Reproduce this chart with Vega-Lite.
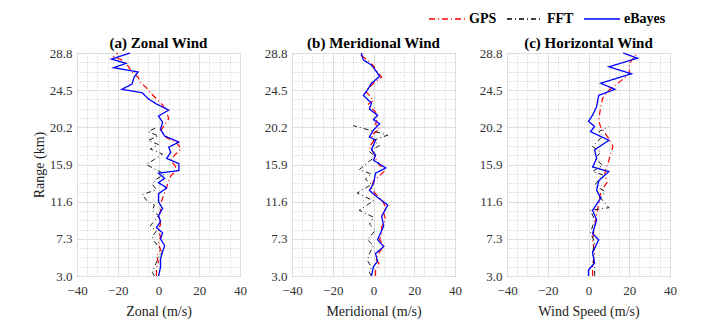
{
  "$schema": "https://vega.github.io/schema/vega-lite/v6.json",
  "padding": {"left": 31, "top": 0, "right": 5, "bottom": 5},
  "background": "white",
  "config": {
    "view": {"stroke": "#707070", "strokeWidth": 1},
    "font": "Liberation Serif",
    "title": {"font": "Liberation Serif", "fontSize": 15, "fontWeight": "bold", "offset": -4, "color": "#000"},
    "axis": {"labelFont": "Liberation Serif", "titleFont": "Liberation Serif", "labelFontSize": 13, "titleFontSize": 14, "titleFontWeight": "normal", "labelColor": "#333", "titleColor": "#222", "labelFlush": false, "ticks": false, "domain": false},
    "legend": {"orient": "none", "legendX": 351, "legendY": -53, "direction": "horizontal", "symbolType": "stroke", "symbolSize": 1300, "symbolStrokeWidth": 1.3, "labelFont": "Liberation Serif", "labelFontSize": 14, "labelFontWeight": "bold", "labelColor": "#000", "columnPadding": 7, "labelOffset": 3}
  },
  "data": {"values": [
    {"p":"a","m":"eBayes","h":28.8,"v":-14},{"p":"a","m":"eBayes","h":28.1,"v":-23},{"p":"a","m":"eBayes","h":27.6,"v":-16},{"p":"a","m":"eBayes","h":27.1,"v":-22},{"p":"a","m":"eBayes","h":26.6,"v":-10},{"p":"a","m":"eBayes","h":26.0,"v":-12},{"p":"a","m":"eBayes","h":25.2,"v":-13},{"p":"a","m":"eBayes","h":24.6,"v":-18},{"p":"a","m":"eBayes","h":24.2,"v":-8},{"p":"a","m":"eBayes","h":23.5,"v":-5},{"p":"a","m":"eBayes","h":22.9,"v":-1},{"p":"a","m":"eBayes","h":22.2,"v":5},{"p":"a","m":"eBayes","h":21.5,"v":0},{"p":"a","m":"eBayes","h":20.8,"v":2},{"p":"a","m":"eBayes","h":20.0,"v":1},{"p":"a","m":"eBayes","h":19.2,"v":3},{"p":"a","m":"eBayes","h":18.5,"v":10},{"p":"a","m":"eBayes","h":17.9,"v":5},{"p":"a","m":"eBayes","h":17.3,"v":6},{"p":"a","m":"eBayes","h":16.6,"v":4},{"p":"a","m":"eBayes","h":16.0,"v":10},{"p":"a","m":"eBayes","h":15.2,"v":10},{"p":"a","m":"eBayes","h":14.9,"v":0},{"p":"a","m":"eBayes","h":14.3,"v":3},{"p":"a","m":"eBayes","h":13.8,"v":0},{"p":"a","m":"eBayes","h":13.2,"v":4},{"p":"a","m":"eBayes","h":12.5,"v":0},{"p":"a","m":"eBayes","h":11.6,"v":0},{"p":"a","m":"eBayes","h":10.8,"v":2},{"p":"a","m":"eBayes","h":10.0,"v":0},{"p":"a","m":"eBayes","h":9.3,"v":1},{"p":"a","m":"eBayes","h":8.6,"v":-1},{"p":"a","m":"eBayes","h":8.0,"v":2},{"p":"a","m":"eBayes","h":7.3,"v":1},{"p":"a","m":"eBayes","h":6.5,"v":3},{"p":"a","m":"eBayes","h":5.8,"v":2},{"p":"a","m":"eBayes","h":5.0,"v":1},{"p":"a","m":"eBayes","h":4.0,"v":1},{"p":"a","m":"eBayes","h":3.0,"v":0},
    {"p":"a","m":"GPS","h":28.8,"v":-20},{"p":"a","m":"GPS","h":28.4,"v":-22},{"p":"a","m":"GPS","h":27.9,"v":-17},{"p":"a","m":"GPS","h":27.3,"v":-15},{"p":"a","m":"GPS","h":26.6,"v":-13},{"p":"a","m":"GPS","h":26.0,"v":-10},{"p":"a","m":"GPS","h":25.4,"v":-9},{"p":"a","m":"GPS","h":24.8,"v":-6},{"p":"a","m":"GPS","h":24.2,"v":-4},{"p":"a","m":"GPS","h":23.5,"v":-1},{"p":"a","m":"GPS","h":22.8,"v":2},{"p":"a","m":"GPS","h":22.0,"v":4},{"p":"a","m":"GPS","h":21.2,"v":5},{"p":"a","m":"GPS","h":20.5,"v":3},{"p":"a","m":"GPS","h":19.8,"v":1},{"p":"a","m":"GPS","h":19.0,"v":4},{"p":"a","m":"GPS","h":18.4,"v":9},{"p":"a","m":"GPS","h":17.7,"v":11},{"p":"a","m":"GPS","h":17.0,"v":8},{"p":"a","m":"GPS","h":16.4,"v":6},{"p":"a","m":"GPS","h":15.8,"v":8},{"p":"a","m":"GPS","h":15.2,"v":9},{"p":"a","m":"GPS","h":14.6,"v":6},{"p":"a","m":"GPS","h":14.0,"v":5},{"p":"a","m":"GPS","h":13.3,"v":4},{"p":"a","m":"GPS","h":12.6,"v":3},{"p":"a","m":"GPS","h":12.0,"v":2},{"p":"a","m":"GPS","h":11.3,"v":1},{"p":"a","m":"GPS","h":10.5,"v":1},{"p":"a","m":"GPS","h":9.8,"v":0},{"p":"a","m":"GPS","h":9.0,"v":1},{"p":"a","m":"GPS","h":8.3,"v":0},{"p":"a","m":"GPS","h":7.5,"v":1},{"p":"a","m":"GPS","h":6.8,"v":0},{"p":"a","m":"GPS","h":6.0,"v":1},{"p":"a","m":"GPS","h":5.3,"v":-1},{"p":"a","m":"GPS","h":4.6,"v":0},{"p":"a","m":"GPS","h":3.8,"v":-1},{"p":"a","m":"GPS","h":3.0,"v":-1},
    {"p":"a","m":"FFT","h":20.2,"v":-1},{"p":"a","m":"FFT","h":19.7,"v":-5},{"p":"a","m":"FFT","h":19.2,"v":0},{"p":"a","m":"FFT","h":18.7,"v":-5},{"p":"a","m":"FFT","h":18.2,"v":0},{"p":"a","m":"FFT","h":17.7,"v":-4},{"p":"a","m":"FFT","h":17.1,"v":2},{"p":"a","m":"FFT","h":16.5,"v":-2},{"p":"a","m":"FFT","h":15.9,"v":-6},{"p":"a","m":"FFT","h":15.4,"v":-2},{"p":"a","m":"FFT","h":14.8,"v":3},{"p":"a","m":"FFT","h":14.2,"v":-1},{"p":"a","m":"FFT","h":13.6,"v":-3},{"p":"a","m":"FFT","h":13.0,"v":-1},{"p":"a","m":"FFT","h":12.4,"v":-8},{"p":"a","m":"FFT","h":11.8,"v":-6},{"p":"a","m":"FFT","h":11.2,"v":-2},{"p":"a","m":"FFT","h":10.6,"v":-3},{"p":"a","m":"FFT","h":10.0,"v":0},{"p":"a","m":"FFT","h":9.4,"v":-2},{"p":"a","m":"FFT","h":8.8,"v":-4},{"p":"a","m":"FFT","h":8.2,"v":-1},{"p":"a","m":"FFT","h":7.6,"v":-3},{"p":"a","m":"FFT","h":7.0,"v":-2},{"p":"a","m":"FFT","h":6.4,"v":0},{"p":"a","m":"FFT","h":5.8,"v":2},{"p":"a","m":"FFT","h":5.2,"v":0},{"p":"a","m":"FFT","h":4.6,"v":-1},{"p":"a","m":"FFT","h":4.0,"v":-2},{"p":"a","m":"FFT","h":3.4,"v":-3},{"p":"a","m":"FFT","h":3.0,"v":-2},
    {"p":"b","m":"eBayes","h":28.8,"v":-6},{"p":"b","m":"eBayes","h":28.0,"v":-5},{"p":"b","m":"eBayes","h":27.4,"v":-1},{"p":"b","m":"eBayes","h":26.8,"v":1},{"p":"b","m":"eBayes","h":26.1,"v":3},{"p":"b","m":"eBayes","h":25.3,"v":-1},{"p":"b","m":"eBayes","h":24.5,"v":-3},{"p":"b","m":"eBayes","h":23.9,"v":-5},{"p":"b","m":"eBayes","h":23.0,"v":-1},{"p":"b","m":"eBayes","h":22.3,"v":-2},{"p":"b","m":"eBayes","h":21.6,"v":2},{"p":"b","m":"eBayes","h":21.1,"v":0},{"p":"b","m":"eBayes","h":20.6,"v":3},{"p":"b","m":"eBayes","h":19.9,"v":0},{"p":"b","m":"eBayes","h":19.1,"v":-2},{"p":"b","m":"eBayes","h":18.7,"v":1},{"p":"b","m":"eBayes","h":17.6,"v":-1},{"p":"b","m":"eBayes","h":17.0,"v":1},{"p":"b","m":"eBayes","h":16.4,"v":0},{"p":"b","m":"eBayes","h":15.5,"v":6},{"p":"b","m":"eBayes","h":14.9,"v":1},{"p":"b","m":"eBayes","h":13.7,"v":0},{"p":"b","m":"eBayes","h":12.9,"v":-2},{"p":"b","m":"eBayes","h":12.1,"v":2},{"p":"b","m":"eBayes","h":11.2,"v":7},{"p":"b","m":"eBayes","h":9.9,"v":4},{"p":"b","m":"eBayes","h":8.8,"v":5},{"p":"b","m":"eBayes","h":7.2,"v":2},{"p":"b","m":"eBayes","h":6.4,"v":5},{"p":"b","m":"eBayes","h":5.6,"v":1},{"p":"b","m":"eBayes","h":4.7,"v":2},{"p":"b","m":"eBayes","h":4.1,"v":0},{"p":"b","m":"eBayes","h":3.0,"v":-1},
    {"p":"b","m":"GPS","h":28.8,"v":-5},{"p":"b","m":"GPS","h":28.5,"v":-6},{"p":"b","m":"GPS","h":28.0,"v":-3},{"p":"b","m":"GPS","h":27.3,"v":0},{"p":"b","m":"GPS","h":26.6,"v":2},{"p":"b","m":"GPS","h":26.0,"v":4},{"p":"b","m":"GPS","h":25.3,"v":0},{"p":"b","m":"GPS","h":24.4,"v":-4},{"p":"b","m":"GPS","h":23.9,"v":-2},{"p":"b","m":"GPS","h":23.3,"v":0},{"p":"b","m":"GPS","h":22.8,"v":-3},{"p":"b","m":"GPS","h":22.0,"v":1},{"p":"b","m":"GPS","h":21.2,"v":2},{"p":"b","m":"GPS","h":20.6,"v":1},{"p":"b","m":"GPS","h":20.0,"v":3},{"p":"b","m":"GPS","h":19.3,"v":-1},{"p":"b","m":"GPS","h":18.6,"v":0},{"p":"b","m":"GPS","h":17.9,"v":-2},{"p":"b","m":"GPS","h":17.3,"v":0},{"p":"b","m":"GPS","h":16.6,"v":1},{"p":"b","m":"GPS","h":15.8,"v":3},{"p":"b","m":"GPS","h":15.3,"v":6},{"p":"b","m":"GPS","h":14.6,"v":3},{"p":"b","m":"GPS","h":14.0,"v":0},{"p":"b","m":"GPS","h":13.2,"v":-1},{"p":"b","m":"GPS","h":12.5,"v":1},{"p":"b","m":"GPS","h":11.8,"v":4},{"p":"b","m":"GPS","h":11.0,"v":6},{"p":"b","m":"GPS","h":10.3,"v":5},{"p":"b","m":"GPS","h":9.5,"v":6},{"p":"b","m":"GPS","h":8.7,"v":4},{"p":"b","m":"GPS","h":8.0,"v":4},{"p":"b","m":"GPS","h":7.2,"v":3},{"p":"b","m":"GPS","h":6.5,"v":5},{"p":"b","m":"GPS","h":5.8,"v":3},{"p":"b","m":"GPS","h":5.0,"v":1},{"p":"b","m":"GPS","h":4.3,"v":3},{"p":"b","m":"GPS","h":3.6,"v":1},{"p":"b","m":"GPS","h":3.0,"v":1},
    {"p":"b","m":"FFT","h":20.4,"v":-10},{"p":"b","m":"FFT","h":19.3,"v":7},{"p":"b","m":"FFT","h":18.7,"v":0},{"p":"b","m":"FFT","h":18.1,"v":3},{"p":"b","m":"FFT","h":17.4,"v":-2},{"p":"b","m":"FFT","h":16.8,"v":1},{"p":"b","m":"FFT","h":16.3,"v":-2},{"p":"b","m":"FFT","h":15.3,"v":-7},{"p":"b","m":"FFT","h":14.8,"v":-1},{"p":"b","m":"FFT","h":14.2,"v":-4},{"p":"b","m":"FFT","h":13.6,"v":-1},{"p":"b","m":"FFT","h":12.6,"v":-8},{"p":"b","m":"FFT","h":11.7,"v":0},{"p":"b","m":"FFT","h":10.6,"v":-7},{"p":"b","m":"FFT","h":9.8,"v":0},{"p":"b","m":"FFT","h":9.0,"v":-2},{"p":"b","m":"FFT","h":8.3,"v":1},{"p":"b","m":"FFT","h":7.2,"v":-3},{"p":"b","m":"FFT","h":6.5,"v":0},{"p":"b","m":"FFT","h":5.6,"v":-2},{"p":"b","m":"FFT","h":4.8,"v":-3},{"p":"b","m":"FFT","h":4.0,"v":-1},{"p":"b","m":"FFT","h":3.4,"v":-2},{"p":"b","m":"FFT","h":3.0,"v":-1},
    {"p":"c","m":"eBayes","h":28.8,"v":17},{"p":"c","m":"eBayes","h":28.2,"v":24},{"p":"c","m":"eBayes","h":27.2,"v":10},{"p":"c","m":"eBayes","h":26.4,"v":21},{"p":"c","m":"eBayes","h":25.3,"v":6},{"p":"c","m":"eBayes","h":24.6,"v":13},{"p":"c","m":"eBayes","h":23.9,"v":5},{"p":"c","m":"eBayes","h":22.6,"v":4},{"p":"c","m":"eBayes","h":21.6,"v":2},{"p":"c","m":"eBayes","h":20.9,"v":0},{"p":"c","m":"eBayes","h":20.3,"v":3},{"p":"c","m":"eBayes","h":19.7,"v":1},{"p":"c","m":"eBayes","h":18.7,"v":10},{"p":"c","m":"eBayes","h":17.6,"v":3},{"p":"c","m":"eBayes","h":16.6,"v":4},{"p":"c","m":"eBayes","h":15.6,"v":2},{"p":"c","m":"eBayes","h":15.1,"v":10},{"p":"c","m":"eBayes","h":14.0,"v":5},{"p":"c","m":"eBayes","h":12.9,"v":4},{"p":"c","m":"eBayes","h":12.0,"v":6},{"p":"c","m":"eBayes","h":10.6,"v":2},{"p":"c","m":"eBayes","h":9.5,"v":4},{"p":"c","m":"eBayes","h":7.9,"v":2},{"p":"c","m":"eBayes","h":7.2,"v":5},{"p":"c","m":"eBayes","h":5.7,"v":2},{"p":"c","m":"eBayes","h":4.5,"v":3},{"p":"c","m":"eBayes","h":3.7,"v":0},{"p":"c","m":"eBayes","h":3.0,"v":0},
    {"p":"c","m":"GPS","h":28.8,"v":24},{"p":"c","m":"GPS","h":27.6,"v":20},{"p":"c","m":"GPS","h":26.4,"v":20},{"p":"c","m":"GPS","h":25.6,"v":16},{"p":"c","m":"GPS","h":24.5,"v":10},{"p":"c","m":"GPS","h":23.6,"v":7},{"p":"c","m":"GPS","h":22.6,"v":6},{"p":"c","m":"GPS","h":21.0,"v":5},{"p":"c","m":"GPS","h":20.2,"v":6},{"p":"c","m":"GPS","h":18.9,"v":10},{"p":"c","m":"GPS","h":18.0,"v":12},{"p":"c","m":"GPS","h":16.4,"v":10},{"p":"c","m":"GPS","h":14.9,"v":8},{"p":"c","m":"GPS","h":13.8,"v":9},{"p":"c","m":"GPS","h":12.7,"v":6},{"p":"c","m":"GPS","h":11.4,"v":5},{"p":"c","m":"GPS","h":10.2,"v":4},{"p":"c","m":"GPS","h":8.7,"v":3},{"p":"c","m":"GPS","h":7.2,"v":2},{"p":"c","m":"GPS","h":5.7,"v":3},{"p":"c","m":"GPS","h":4.2,"v":2},{"p":"c","m":"GPS","h":3.0,"v":2},
    {"p":"c","m":"FFT","h":20.3,"v":10},{"p":"c","m":"FFT","h":19.7,"v":5},{"p":"c","m":"FFT","h":19.2,"v":7},{"p":"c","m":"FFT","h":18.0,"v":2},{"p":"c","m":"FFT","h":17.3,"v":6},{"p":"c","m":"FFT","h":16.6,"v":3},{"p":"c","m":"FFT","h":15.8,"v":7},{"p":"c","m":"FFT","h":15.1,"v":2},{"p":"c","m":"FFT","h":14.7,"v":7},{"p":"c","m":"FFT","h":13.5,"v":3},{"p":"c","m":"FFT","h":12.8,"v":8},{"p":"c","m":"FFT","h":12.0,"v":6},{"p":"c","m":"FFT","h":10.9,"v":10},{"p":"c","m":"FFT","h":10.6,"v":1},{"p":"c","m":"FFT","h":9.5,"v":3},{"p":"c","m":"FFT","h":8.0,"v":1},{"p":"c","m":"FFT","h":6.9,"v":3},{"p":"c","m":"FFT","h":5.7,"v":2},{"p":"c","m":"FFT","h":3.8,"v":3},{"p":"c","m":"FFT","h":3.0,"v":3}
  ]},
  "hconcat": [
    {
      "width": 163, "height": 223,
      "title": {"text": "(a) Zonal Wind", "font": "Liberation Serif"},
      "transform": [{"filter": "datum.p === 'a'"}],
      "encoding": {
        "order": {"field": "h", "type": "quantitative"},
        "color": {"field": "m", "type": "nominal", "scale": {"domain": ["GPS", "FFT", "eBayes"], "range": ["#ff0000", "#000000", "#0000ff"]}, "legend": {"title": null}},
        "strokeDash": {"field": "m", "type": "nominal", "scale": {"domain": ["GPS", "FFT", "eBayes"], "range": [[6, 3, 1, 3], [5, 3, 1, 3], [1, 0]]}, "legend": {"title": null}}
      },
      "layer": [
        {"mark": {"type": "point", "opacity": 0, "size": 0},
         "encoding": {
           "color": {"value": "#fff"}, "strokeDash": {"value": [1, 0]},
           "x": {"field": "v", "type": "quantitative", "scale": {"domain": [-40, 40], "nice": false, "zero": false}, "axis": {"orient": "bottom", "values": [-35,-30,-25,-15,-10,-5,5,10,15,25,30,35], "grid": true, "gridDash": [1, 2], "gridColor": "#c8c8c8", "labels": false, "title": null, "minExtent": 0, "maxExtent": 0}},
           "y": {"field": "h", "type": "quantitative", "scale": {"domain": [3, 28.8], "nice": false, "zero": false}, "axis": {"orient": "left", "values": [4.075,5.15,6.225,8.375,9.45,10.525,12.675,13.75,14.825,16.975,18.05,19.125,21.275,22.35,23.425,25.575,26.65,27.725], "grid": true, "gridDash": [1, 2], "gridColor": "#c8c8c8", "labels": false, "title": null, "minExtent": 0, "maxExtent": 0}}
         }},
        {"transform": [{"filter": "datum.m === 'GPS'"}], "mark": {"type": "line", "strokeWidth": 1.2},
         "encoding": {
           "x": {"field": "v", "type": "quantitative", "scale": {"domain": [-40, 40], "nice": false, "zero": false}, "axis": {"orient": "bottom", "values": [-40,-20,0,20,40], "grid": true, "gridColor": "#dedede", "labelFont": "Liberation Serif", "labelPadding": 8, "title": "Zonal (m/s)", "titlePadding": 7}},
           "y": {"field": "h", "type": "quantitative", "scale": {"domain": [3, 28.8], "nice": false, "zero": false}, "axis": {"orient": "left", "values": [3.0,7.3,11.6,15.9,20.2,24.5,28.8], "format": ".1f", "grid": true, "gridColor": "#dedede", "labelFont": "Liberation Serif", "labelPadding": 5, "title": "Range (km)", "titlePadding": 3}}
         }},
        {"transform": [{"filter": "datum.m === 'FFT'"}], "mark": {"type": "line", "strokeWidth": 0.9},
         "encoding": {"x": {"field": "v", "type": "quantitative", "axis": null}, "y": {"field": "h", "type": "quantitative", "axis": null}}},
        {"transform": [{"filter": "datum.m === 'eBayes'"}], "mark": {"type": "line", "strokeWidth": 1.3},
         "encoding": {"x": {"field": "v", "type": "quantitative", "axis": null}, "y": {"field": "h", "type": "quantitative", "axis": null}}}
      ],
      "resolve": {"axis": {"x": "independent", "y": "independent"}}
    },
    {
      "width": 163, "height": 223,
      "title": {"text": "(b) Meridional Wind", "font": "Liberation Serif"},
      "transform": [{"filter": "datum.p === 'b'"}],
      "encoding": {
        "order": {"field": "h", "type": "quantitative"},
        "color": {"field": "m", "type": "nominal", "scale": {"domain": ["GPS", "FFT", "eBayes"], "range": ["#ff0000", "#000000", "#0000ff"]}, "legend": {"title": null}},
        "strokeDash": {"field": "m", "type": "nominal", "scale": {"domain": ["GPS", "FFT", "eBayes"], "range": [[6, 3, 1, 3], [5, 3, 1, 3], [1, 0]]}, "legend": {"title": null}}
      },
      "layer": [
        {"mark": {"type": "point", "opacity": 0, "size": 0},
         "encoding": {
           "color": {"value": "#fff"}, "strokeDash": {"value": [1, 0]},
           "x": {"field": "v", "type": "quantitative", "scale": {"domain": [-40, 40], "nice": false, "zero": false}, "axis": {"orient": "bottom", "values": [-35,-30,-25,-15,-10,-5,5,10,15,25,30,35], "grid": true, "gridDash": [1, 2], "gridColor": "#c8c8c8", "labels": false, "title": null, "minExtent": 0, "maxExtent": 0}},
           "y": {"field": "h", "type": "quantitative", "scale": {"domain": [3, 28.8], "nice": false, "zero": false}, "axis": {"orient": "left", "values": [4.075,5.15,6.225,8.375,9.45,10.525,12.675,13.75,14.825,16.975,18.05,19.125,21.275,22.35,23.425,25.575,26.65,27.725], "grid": true, "gridDash": [1, 2], "gridColor": "#c8c8c8", "labels": false, "title": null, "minExtent": 0, "maxExtent": 0}}
         }},
        {"transform": [{"filter": "datum.m === 'GPS'"}], "mark": {"type": "line", "strokeWidth": 1.2},
         "encoding": {
           "x": {"field": "v", "type": "quantitative", "scale": {"domain": [-40, 40], "nice": false, "zero": false}, "axis": {"orient": "bottom", "values": [-40,-20,0,20,40], "grid": true, "gridColor": "#dedede", "labelFont": "Liberation Serif", "labelPadding": 8, "title": "Meridional (m/s)", "titlePadding": 7}},
           "y": {"field": "h", "type": "quantitative", "scale": {"domain": [3, 28.8], "nice": false, "zero": false}, "axis": {"orient": "left", "values": [3.0,7.3,11.6,15.9,20.2,24.5,28.8], "format": ".1f", "grid": true, "gridColor": "#dedede", "labelFont": "Liberation Serif", "labelPadding": 5, "title": null}}
         }},
        {"transform": [{"filter": "datum.m === 'FFT'"}], "mark": {"type": "line", "strokeWidth": 0.9},
         "encoding": {"x": {"field": "v", "type": "quantitative", "axis": null}, "y": {"field": "h", "type": "quantitative", "axis": null}}},
        {"transform": [{"filter": "datum.m === 'eBayes'"}], "mark": {"type": "line", "strokeWidth": 1.3},
         "encoding": {"x": {"field": "v", "type": "quantitative", "axis": null}, "y": {"field": "h", "type": "quantitative", "axis": null}}}
      ],
      "resolve": {"axis": {"x": "independent", "y": "independent"}}
    },
    {
      "width": 163, "height": 223,
      "title": {"text": "(c) Horizontal Wind", "font": "Liberation Serif"},
      "transform": [{"filter": "datum.p === 'c'"}],
      "encoding": {
        "order": {"field": "h", "type": "quantitative"},
        "color": {"field": "m", "type": "nominal", "scale": {"domain": ["GPS", "FFT", "eBayes"], "range": ["#ff0000", "#000000", "#0000ff"]}, "legend": {"title": null}},
        "strokeDash": {"field": "m", "type": "nominal", "scale": {"domain": ["GPS", "FFT", "eBayes"], "range": [[6, 3, 1, 3], [5, 3, 1, 3], [1, 0]]}, "legend": {"title": null}}
      },
      "layer": [
        {"mark": {"type": "point", "opacity": 0, "size": 0},
         "encoding": {
           "color": {"value": "#fff"}, "strokeDash": {"value": [1, 0]},
           "x": {"field": "v", "type": "quantitative", "scale": {"domain": [-40, 40], "nice": false, "zero": false}, "axis": {"orient": "bottom", "values": [-35,-30,-25,-15,-10,-5,5,10,15,25,30,35], "grid": true, "gridDash": [1, 2], "gridColor": "#c8c8c8", "labels": false, "title": null, "minExtent": 0, "maxExtent": 0}},
           "y": {"field": "h", "type": "quantitative", "scale": {"domain": [3, 28.8], "nice": false, "zero": false}, "axis": {"orient": "left", "values": [4.075,5.15,6.225,8.375,9.45,10.525,12.675,13.75,14.825,16.975,18.05,19.125,21.275,22.35,23.425,25.575,26.65,27.725], "grid": true, "gridDash": [1, 2], "gridColor": "#c8c8c8", "labels": false, "title": null, "minExtent": 0, "maxExtent": 0}}
         }},
        {"transform": [{"filter": "datum.m === 'GPS'"}], "mark": {"type": "line", "strokeWidth": 1.2},
         "encoding": {
           "x": {"field": "v", "type": "quantitative", "scale": {"domain": [-40, 40], "nice": false, "zero": false}, "axis": {"orient": "bottom", "values": [-40,-20,0,20,40], "grid": true, "gridColor": "#dedede", "labelFont": "Liberation Serif", "labelPadding": 8, "title": "Wind Speed (m/s)", "titlePadding": 7}},
           "y": {"field": "h", "type": "quantitative", "scale": {"domain": [3, 28.8], "nice": false, "zero": false}, "axis": {"orient": "left", "values": [3.0,7.3,11.6,15.9,20.2,24.5,28.8], "format": ".1f", "grid": true, "gridColor": "#dedede", "labelFont": "Liberation Serif", "labelPadding": 5, "title": null}}
         }},
        {"transform": [{"filter": "datum.m === 'FFT'"}], "mark": {"type": "line", "strokeWidth": 0.9},
         "encoding": {"x": {"field": "v", "type": "quantitative", "axis": null}, "y": {"field": "h", "type": "quantitative", "axis": null}}},
        {"transform": [{"filter": "datum.m === 'eBayes'"}], "mark": {"type": "line", "strokeWidth": 1.3},
         "encoding": {"x": {"field": "v", "type": "quantitative", "axis": null}, "y": {"field": "h", "type": "quantitative", "axis": null}}}
      ],
      "resolve": {"axis": {"x": "independent", "y": "independent"}}
    }
  ],
  "spacing": 52,
  "bounds": "flush",
  "resolve": {"scale": {"color": "shared", "strokeDash": "shared"}, "legend": {"color": "shared", "strokeDash": "shared"}}
}
